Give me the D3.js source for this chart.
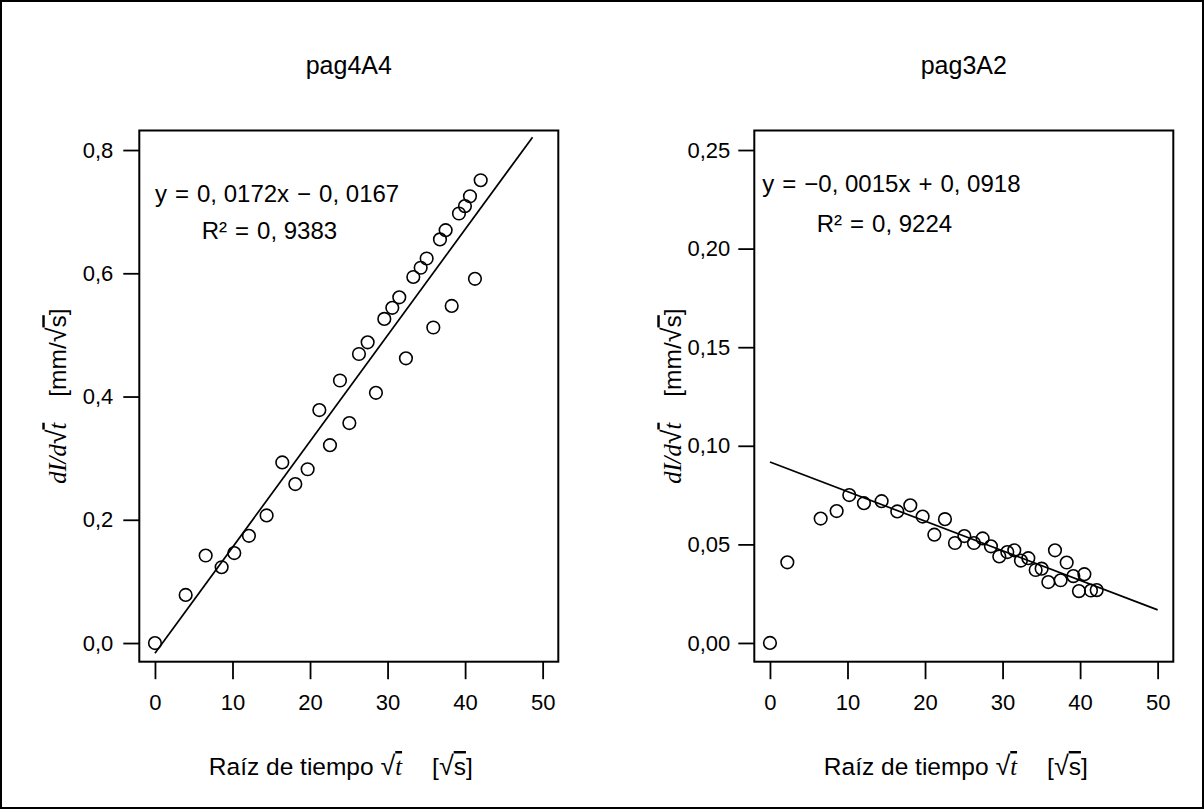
<!DOCTYPE html>
<html>
<head>
<meta charset="utf-8">
<script src="https://cdn.jsdelivr.net/npm/d3@7"></script>
<style>
  body { margin: 0; background: #fff; }
  text { font-family: "Liberation Sans", Arial, sans-serif; fill: #000; }
  .math { font-family: "Liberation Serif", "DejaVu Serif", serif; font-style: italic; }
</style>
</head>
<body>
<div class="graph"></div>
<script>
// values
const xTicks = [0, 10, 20, 30, 40, 50];

const leftTitle = "pag4A4";
const leftX = [0, 3.96, 6.54, 8.60, 10.23, 12.12, 14.40, 16.42, 18.10, 19.69, 21.20,
  22.57, 23.86, 25.07, 26.31, 27.43, 28.50, 29.58, 30.61, 31.51, 32.37, 33.32,
  34.27, 35.04, 35.90, 36.76, 37.49, 38.27, 39.21, 39.98, 40.63, 41.27, 42.01];
const leftY = [0, 0.078, 0.142, 0.123, 0.146, 0.174, 0.207, 0.293, 0.258, 0.282, 0.378,
  0.321, 0.426, 0.357, 0.469, 0.488, 0.406, 0.526, 0.544, 0.561, 0.462, 0.594,
  0.609, 0.624, 0.512, 0.655, 0.670, 0.547, 0.697, 0.709, 0.725, 0.591, 0.751];
const leftYTicks = [0, 0.2, 0.4, 0.6, 0.8];
const leftFit = { slope: 0.0172, intercept: -0.0167, xFrom: 0, xTo: 48.7 };
const leftEquation = "y\u2004=\u20040, 0172x\u2004\u2212\u20040, 0167";
const leftR2 = "R\u00B2\u2004=\u20040, 9383";

const rightTitle = "pag3A2";
const rightX = [0, 2.24, 6.54, 8.60, 10.23, 12.12, 14.40, 16.42, 18.10, 19.69, 21.20,
  22.57, 23.86, 25.07, 26.31, 27.43, 28.50, 29.58, 30.61, 31.51, 32.37, 33.32,
  34.27, 35.04, 35.90, 36.76, 37.49, 38.27, 39.13, 39.85, 40.55, 41.40, 42.14];
const rightY = [0, 0.0409, 0.0631, 0.0669, 0.0750, 0.0709, 0.0719, 0.0667, 0.0698, 0.0641, 0.0549,
  0.0628, 0.0507, 0.0542, 0.0507, 0.0530, 0.0490, 0.0439, 0.0461, 0.0470, 0.0418, 0.0430,
  0.0370, 0.0377, 0.0309, 0.0470, 0.0318, 0.0408, 0.0339, 0.0263, 0.0349, 0.0266, 0.0268];
const rightYTicks = [0, 0.05, 0.10, 0.15, 0.20, 0.25];
const rightFit = { slope: -0.0015, intercept: 0.0918, xFrom: 0, xTo: 50 };
const rightEquation = "y\u2004=\u2004\u22120, 0015x\u2004+\u20040, 0918";
const rightR2 = "R\u00B2\u2004=\u20040, 9224";

const WIDTH = 1204;
const HEIGHT = 809;

class ScatterPanel {
  constructor(svg, opts) {
    this.svg = svg;
    this.opts = opts;
    this.points = opts.xs.map((x, i) => ({ x: x, y: opts.ys[i] }));
    this.top = 130.5;
    this.bottom = 661.7;
    this.setupScales();
    this.drawFrame();
    this.drawAxes();
    this.drawLabels();
    this.drawPoints();
  }

  setupScales() {
    this.xScale = d3.scaleLinear()
      .domain([-2.02, 52.02])
      .range([this.opts.left, this.opts.right]);
    this.yScale = d3.scaleLinear()
      .domain(this.opts.yDomain)
      .range([this.bottom, this.top]);
  }

  drawFrame() {
    this.svg.append("rect")
      .attr("x", this.opts.left)
      .attr("y", this.top)
      .attr("width", this.opts.right - this.opts.left)
      .attr("height", this.bottom - this.top)
      .attr("fill", "none")
      .attr("stroke", "black")
      .attr("stroke-width", 2);
  }

  drawAxes() {
    const comma = f => d => f(d).replace(".", ",");

    const xAxis = d3.axisBottom(this.xScale)
      .tickValues(xTicks)
      .tickSize(17.5)
      .tickSizeOuter(0)
      .tickPadding(15)
      .tickFormat(d3.format("d"));
    const gx = this.svg.append("g")
      .attr("transform", `translate(0, ${this.bottom})`)
      .call(xAxis);

    const yAxis = d3.axisLeft(this.yScale)
      .tickValues(this.opts.yTicks)
      .tickSize(16)
      .tickSizeOuter(0)
      .tickPadding(this.opts.yPad)
      .tickFormat(comma(d3.format(this.opts.yFormat)));
    const gy = this.svg.append("g")
      .attr("transform", `translate(${this.opts.left}, 0)`)
      .call(yAxis);

    [gx, gy].forEach(g => {
      g.select(".domain").remove();
      g.selectAll(".tick line").attr("stroke", "black").attr("stroke-width", 1.8);
      g.selectAll(".tick text")
        .attr("font-family", "Liberation Sans, Arial, sans-serif")
        .attr("font-size", 22)
        .attr("fill", "black");
    });
  }

  drawLabels() {
    const cx = (this.opts.left + this.opts.right) / 2;

    //Title
    this.svg.append("text")
      .attr("x", cx)
      .attr("y", 74)
      .attr("text-anchor", "middle")
      .attr("font-size", 25)
      .text(this.opts.title);

    //x label
    const xl = this.svg.append("text")
      .attr("x", cx - 8)
      .attr("y", 775)
      .attr("text-anchor", "middle")
      .attr("font-size", 24.5);
    xl.append("tspan").text("Ra\u00EDz de tiempo ");
    xl.append("tspan").attr("font-size", 27).text("\u221A");
    xl.append("tspan").attr("class", "math").attr("text-decoration", "overline").text("t");
    xl.append("tspan").attr("dx", 30).text("[");
    xl.append("tspan").attr("font-size", 27).text("\u221A");
    xl.append("tspan").attr("text-decoration", "overline").text("s");
    xl.append("tspan").text("]");

    //y label
    const yl = this.svg.append("text")
      .attr("transform", `translate(${this.opts.left - 73}, ${(this.top + this.bottom) / 2}) rotate(-90)`)
      .attr("text-anchor", "middle")
      .attr("font-size", 24.5);
    yl.append("tspan").attr("class", "math").text("dI/d");
    yl.append("tspan").attr("font-size", 27).text("\u221A");
    yl.append("tspan").attr("class", "math").attr("text-decoration", "overline").text("t");
    yl.append("tspan").attr("dx", 26).text("[mm/");
    yl.append("tspan").attr("font-size", 27).text("\u221A");
    yl.append("tspan").attr("text-decoration", "overline").text("s");
    yl.append("tspan").text("]");

    //fit equation
    this.svg.append("text")
      .attr("x", this.opts.left + this.opts.eqDx)
      .attr("y", this.opts.eqY)
      .attr("font-size", 24)
      .text(this.opts.equation);
    this.svg.append("text")
      .attr("x", this.opts.left + 62.4)
      .attr("y", this.opts.r2Y)
      .attr("font-size", 24)
      .text(this.opts.r2);
  }

  drawPoints() {
    const fit = this.opts.fit;
    const lineData = [fit.xFrom, fit.xTo].map(x => ({ x: x, y: fit.slope * x + fit.intercept }));
    const line = d3.line()
      .x(d => this.xScale(d.x))
      .y(d => this.yScale(d.y));

    this.svg.append("path")
      .datum(lineData)
      .attr("d", line)
      .attr("fill", "none")
      .attr("stroke", "black")
      .attr("stroke-width", 1.7);

    this.svg.append("g")
      .selectAll("circle")
      .data(this.points)
      .join("circle")
      .attr("cx", d => this.xScale(d.x))
      .attr("cy", d => this.yScale(d.y))
      .attr("r", 6.3)
      .attr("fill", "none")
      .attr("stroke", "black")
      .attr("stroke-width", 1.6);
  }
}

const svg = d3.select(".graph")
  .append("svg")
  .attr("width", WIDTH)
  .attr("height", HEIGHT)
  .attr("viewBox", `0 0 ${WIDTH} ${HEIGHT}`);

svg.append("rect")
  .attr("x", 1)
  .attr("y", 1)
  .attr("width", WIDTH - 2)
  .attr("height", HEIGHT - 2)
  .attr("fill", "white")
  .attr("stroke", "black")
  .attr("stroke-width", 2);

new ScatterPanel(svg, {
  title: leftTitle,
  xs: leftX,
  ys: leftY,
  yTicks: leftYTicks,
  yFormat: ".1f",
  yPad: 10,
  yDomain: [-0.0303, 0.8317],
  fit: leftFit,
  equation: leftEquation,
  r2: leftR2,
  left: 139.3,
  right: 558.3,
  eqDx: 15.7,
  eqY: 201.5,
  r2Y: 238.6
});

new ScatterPanel(svg, {
  title: rightTitle,
  xs: rightX,
  ys: rightY,
  yTicks: rightYTicks,
  yFormat: ".2f",
  yPad: 8,
  yDomain: [-0.0095, 0.2599],
  fit: rightFit,
  equation: rightEquation,
  r2: rightR2,
  left: 754.3,
  right: 1173.3,
  eqDx: 8,
  eqY: 191.5,
  r2Y: 232
});
</script>
</body>
</html>
